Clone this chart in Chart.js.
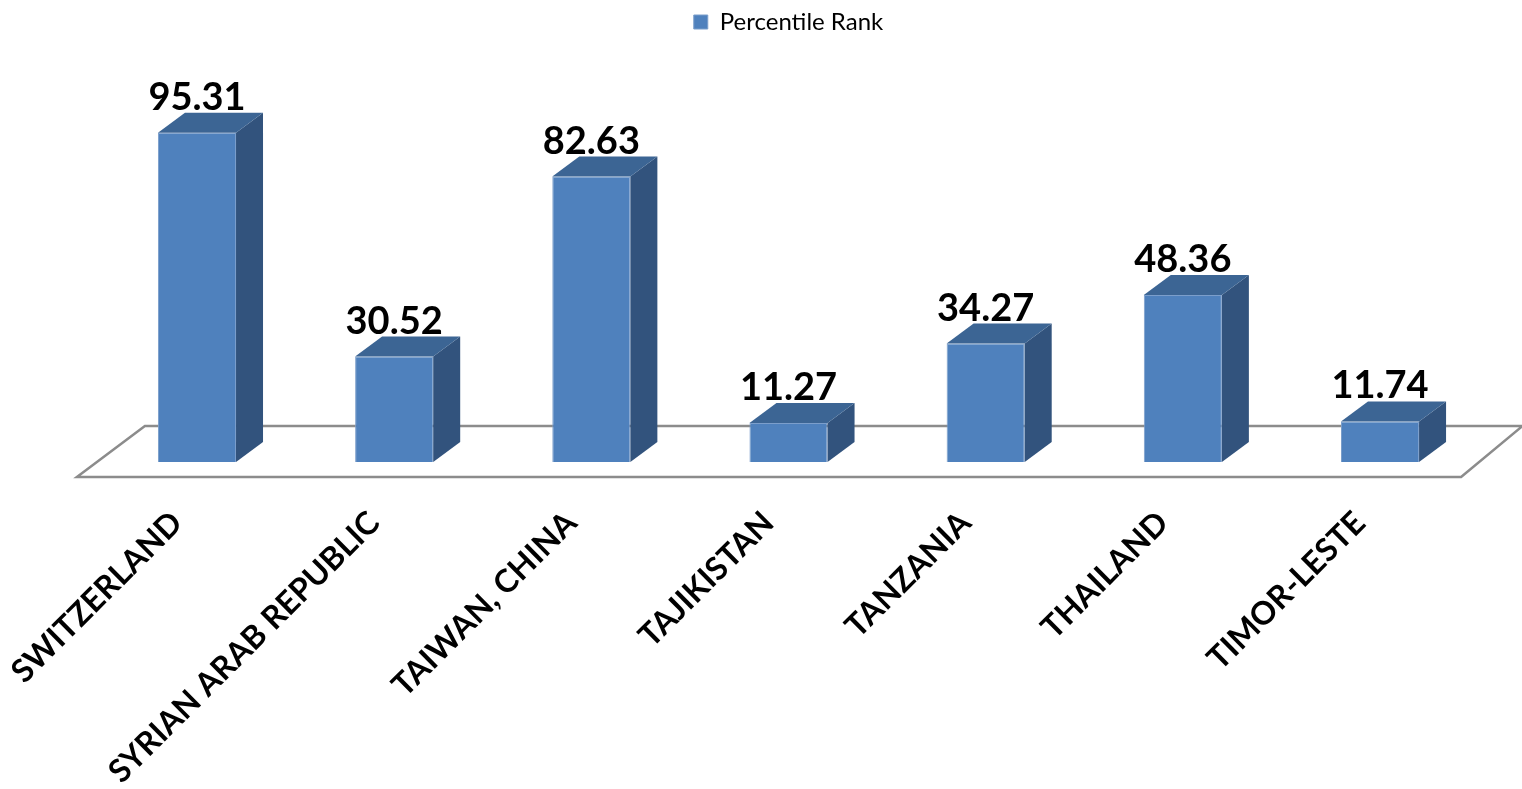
<!DOCTYPE html>
<html>
<head>
<meta charset="utf-8">
<script src="https://cdn.jsdelivr.net/npm/chart.js@4.4.1/dist/chart.umd.min.js"></script>
<style>
html,body{margin:0;padding:0;background:#fff;}
#wrap{width:1522px;height:789px;}
</style>
</head>
<body>
<div id="wrap"><canvas id="chart"></canvas></div>
<script>
const countries = ["SWITZERLAND","SYRIAN ARAB REPUBLIC","TAIWAN, CHINA","TAJIKISTAN","TANZANIA","THAILAND","TIMOR-LESTE"];
const percentileRank = [95.31,30.52,82.63,11.27,34.27,48.36,11.74];
const seriesName = "Percentile Rank";

const DX = 27, DY = 20;

/* floor plane under the bars */
const floorPlugin = {
id:"floor",
beforeDatasetsDraw(chart){
const a = chart.chartArea, c = chart.ctx;
c.save();
c.beginPath();
c.moveTo(a.left-21.5, a.bottom+15);
c.lineTo(a.left+46.5, a.bottom-36);
c.lineTo(a.right+44, a.bottom-36);
c.lineTo(a.right-17.5, a.bottom+15);
c.closePath();
c.fillStyle="#ffffff";
c.fill();
c.strokeStyle="#8c8c8c";
c.lineWidth=2.5;
c.stroke();
c.restore();
}
};

/* top + side faces and value labels */
const boxPlugin = {
id:"box3d",
afterDatasetsDraw(chart){
const c = chart.ctx;
const meta = chart.getDatasetMeta(0);
c.save();
meta.data.forEach((bar,i)=>{
const l = bar.x - bar.width/2, r = bar.x + bar.width/2;
const t = bar.y, b = bar.base;
// side
c.beginPath();
c.moveTo(r,t);
c.lineTo(r+DX,t-DY);
c.lineTo(r+DX,b-DY);
c.lineTo(r,b);
c.closePath();
c.fillStyle="#32537d";
c.fill();
// top
c.beginPath();
c.moveTo(l,t);
c.lineTo(l+DX,t-DY);
c.lineTo(r+DX,t-DY);
c.lineTo(r,t);
c.closePath();
c.fillStyle="#3c6594";
c.fill();
// label
c.fillStyle="#000";
c.font="bold 38px Lato";
c.textAlign="center";
c.textBaseline="alphabetic";
c.fillText(percentileRank[i].toFixed(2), bar.x, t-DY-3);
});
c.restore();
}
};

new Chart(document.getElementById("chart"),{
type:"bar",
data:{
labels:countries,
datasets:[{
label:seriesName,
data:percentileRank,
backgroundColor:"#4f81bd",
borderColor:"#7b9ecb",
borderWidth:1,
barPercentage:0.396,
categoryPercentage:1
}]
},
options:{
responsive:true,
maintainAspectRatio:false,
animation:false,
layout:{padding:{left:98.4,right:43.4,top:0,bottom:0}},
plugins:{
legend:{
display:true,
position:"top",
labels:{
boxWidth:14,
boxHeight:14,
padding:10,
color:"#000",
font:{family:"Lato",size:24}
}
},
tooltip:{enabled:false}
},
scales:{
x:{
grid:{display:false},
border:{display:false},
ticks:{
color:"#000",
minRotation:45,
maxRotation:45,
padding:34,
labelOffset:-20,
font:{family:"Lato",size:32,weight:"bold"}
},
afterFit:(axis)=>{
axis.height = 327;
axis.paddingLeft = 0;
axis.paddingRight = 0;
}
},
y:{
display:false,
min:0,
max:121
}
}
},
plugins:[floorPlugin,boxPlugin]
});
</script>
</body>
</html>
